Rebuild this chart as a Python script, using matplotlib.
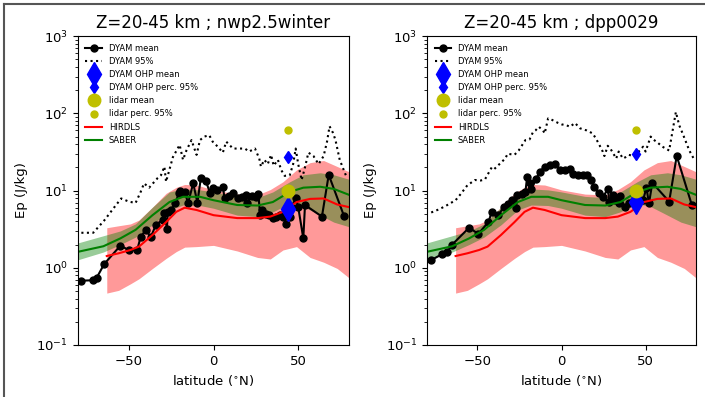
import numpy as np
import matplotlib
matplotlib.use("Agg")
import matplotlib.pyplot as plt
from matplotlib.lines import Line2D

# ---------------- data ----------------
titles = ["Z=20-45 km ; nwp2.5winter", "Z=20-45 km ; dpp0029"]

# DYAM mean, left panel (nwp2.5winter)
dyam_lat_L = [-78, -71, -69, -64.5, -55, -50, -45, -43, -40, -37, -34, -30, -29, -27.5, -27, -25,
              -22.5, -20.5, -19.5, -17, -15, -12, -9.5, -7.5, -4.5, -2, -0.5, 2, 5.5, 6.5, 9,
              11.5, 14.5, 17, 19, 19.5, 22.5, 25, 26.5, 27.5, 28.5, 31, 33, 35, 37, 39, 41, 43,
              45, 46, 48.5, 50, 53, 54, 64, 68, 77]
dyam_mean_L = [0.68, 0.69, 0.74, 1.12, 1.93, 1.7, 1.72, 2.5, 3.1, 2.5, 3.6, 4.2, 5.1, 3.2, 5.3, 5.6,
               6.9, 9.2, 9.8, 9.6, 6.9, 12.4, 7.0, 14.4, 13.3, 9.2, 10.9, 10.2, 11.2, 8.0, 8.5,
               9.2, 7.9, 8.3, 8.7, 6.9, 8.5, 8.2, 9.0, 4.8, 5.6, 5.0, 4.8, 4.4, 4.6, 4.8, 4.5, 3.7,
               4.6, 6.1, 7.9, 6.1, 2.4, 6.5, 4.6, 16.0, 4.7]

# DYAM 95th percentile, left panel
p95_lat_L = [-78, -71, -64.5, -58.5, -54.5, -50, -46, -43, -41, -38, -33, -31, -29, -28, -24, -20,
             -18, -16, -13, -10, -8, -5.5, -2.5, -0.5, 2.5, 5.5, 7.5, 11.5, 15, 18.5, 21, 24.5,
             25.5, 27, 28, 30, 32, 34, 35.5, 38, 40, 42, 45, 47, 48.5, 50, 52, 54, 56, 59, 62,
             65, 67, 68.5, 70.5, 72, 74.5, 78.5]
p95_L = [2.84, 2.84, 4.1, 6.1, 7.9, 7.2, 6.9, 9.6, 12.4, 10.9, 14.5, 15.8, 20.4, 13.0, 27, 39,
         25, 33, 45, 29, 45, 50, 52, 43, 37, 31, 43, 35, 35, 35, 32, 35,
         31, 26, 20.4, 25, 22, 29, 21, 25, 18.4, 15.5, 15.8, 22, 35, 22, 13.7, 20, 31, 28, 22,
         28, 43, 68, 56, 45, 25, 15]

# DYAM mean, right panel (dpp0029)
dyam_lat_R = [-77.5, -71, -68, -65, -55, -49.5, -43.5, -41.5, -37.5, -34.5, -32, -29.5, -27, -26.5,
              -23.5, -21.5, -20.5, -19, -18, -15, -13, -10, -7, -4, -1, 2, 5, 7, 10, 12.5, 15,
              17.5, 19.5, 22, 24.5, 27.5, 28.5, 30.5, 32, 34, 35, 37.5, 40, 43, 46, 48.5, 50.5,
              52, 54, 64, 68.5, 77.5]
dyam_mean_R = [1.26, 1.5, 1.6, 2.0, 3.3, 2.75, 3.9, 5.3, 4.8, 6.1, 6.6, 7.5, 6.0, 8.7,
               9.0, 9.5, 14.8, 12.4, 10.6, 14.2, 17.5, 20.3, 21.5, 22.3, 18.4, 18.4, 19.3, 16.5,
               15.8, 16.0, 15.8, 13.7, 11.0, 9.4, 8.2, 10.4, 7.2, 8.7, 7.5, 6.8, 8.4, 6.1, 7.0,
               7.6, 7.5, 7.5, 10.9, 6.8, 12.6, 7.2, 28.0, 6.5]

# DYAM 95th percentile, right panel
p95_lat_R = [-77.5, -73, -69, -63, -60, -56, -51.5, -48, -45.5, -41.5, -40, -36, -33.5, -32, -28,
             -25.5, -21.5, -19, -17, -15.5, -13.5, -11, -10, -8, -6, -2, 0, 3, 5, 8, 11, 15,
             18.5, 20.5, 22, 24.5, 25.5, 27.5, 29, 30.5, 32.5, 34, 36.5, 38, 40, 43, 46.5, 48.5,
             50, 53, 54.5, 57, 60, 64, 68, 70, 72, 76, 79]
p95_R = [5.2, 5.7, 6.3, 7.5, 9.0, 11.7, 13.7, 13.5, 14, 20, 19, 23, 26, 30, 29,
         33, 45, 46, 57, 60, 67, 60, 55, 86, 83, 75, 72, 70, 67, 75, 64, 60,
         55, 47, 41, 32, 28, 38, 35, 31, 26, 32, 26, 27, 29, 28, 33, 37,
         32, 50, 46, 42, 37, 33, 104, 70, 55, 33, 25]

# OHP station values
ohp_lat = 44
ohp_mean = [5.8, 7.2]       # left, right
ohp_p95 = [27.4, 30.0]
lidar_mean = [10.0, 10.0]
lidar_p95 = [60.0, 60.0]

# HIRDLS climatology
hirdls_lat = [-63, -56, -49, -44, -36, -28, -22, -17, -10, 0, 14, 26, 33.5, 41, 49, 57, 65, 73, 80]
hirdls_mean = [1.42, 1.54, 1.7, 1.88, 2.66, 3.9, 5.3, 6.0, 5.6, 4.8, 4.4, 4.4, 4.6, 5.3, 7.1, 7.8,
               7.9, 6.6, 6.1]
hirdls_hi = [3.3, 3.5, 3.7, 4.15, 6.1, 9.2, 11.0, 12.0, 11.8, 10.2, 9.0, 8.8, 10.3, 13.0, 18.5,
             23.0, 24.5, 20.5, 17.5]
hirdls_lo = [0.47, 0.51, 0.62, 0.72, 0.98, 1.32, 1.62, 1.85, 1.88, 1.95, 1.65, 1.36, 1.3, 1.7,
             1.88, 1.36, 1.18, 0.98, 0.74]

# SABER climatology
saber_lat = [-80, -65, -55, -46, -36, -26, -18, -8, 0, 14, 26, 35, 45, 53, 63, 71, 80]
saber_mean = [1.61, 1.9, 2.4, 3.1, 4.8, 7.1, 8.3, 8.3, 7.5, 6.5, 6.4, 7.1, 9.6, 10.9, 11.2, 10.5, 8.8]
saber_hi = [2.1, 2.6, 3.0, 3.7, 6.1, 9.6, 10.5, 10.2, 9.6, 8.4, 8.1, 9.6, 13.0, 16.0, 17.0, 16.0, 14.0]
saber_lo = [1.27, 1.6, 2.0, 2.5, 3.6, 5.6, 6.5, 6.4, 5.9, 4.8, 4.6, 5.3, 6.8, 6.2, 4.8, 3.9, 3.4]

panels = [
    (dyam_lat_L, dyam_mean_L, p95_lat_L, p95_L),
    (dyam_lat_R, dyam_mean_R, p95_lat_R, p95_R),
]

# ---------------- figure ----------------
fig = plt.figure(figsize=(7.05, 3.97), dpi=100)
axes = [fig.add_axes([0.1106, 0.131, 0.3845, 0.778]),
        fig.add_axes([0.6057, 0.131, 0.3816, 0.778])]

for i, ax in enumerate(axes):
    lat_m, mean_v, lat_p, p_v = panels[i]
    ax.plot(lat_m, mean_v, 'ko-', lw=1.5, ms=5, label='DYAM mean')
    ax.plot(lat_p, p_v, 'k:', lw=1.5, label='DYAM 95%')
    ax.plot([ohp_lat], [ohp_mean[i]], 'bd', ms=12, label='DYAM OHP mean', zorder=4)
    ax.plot([ohp_lat], [ohp_p95[i]], 'bd', ms=6, label='DYAM OHP perc. 95%', zorder=4)
    ax.plot([ohp_lat], [lidar_mean[i]], 'yo', ms=9, label='lidar mean', zorder=4)
    ax.plot([ohp_lat], [lidar_p95[i]], 'yo', ms=5, label='lidar perc. 95%', zorder=4)
    ax.plot(hirdls_lat, hirdls_mean, 'r-', lw=1.5, label='HIRDLS')
    ax.fill_between(hirdls_lat, hirdls_lo, hirdls_hi, color='r', alpha=0.4, lw=0)
    ax.plot(saber_lat, saber_mean, 'g-', lw=1.5, label='SABER')
    ax.fill_between(saber_lat, saber_lo, saber_hi, color='g', alpha=0.4, lw=0)

    ax.set_yscale('log')
    ax.set_ylim(0.1, 1000)
    ax.set_xlim(-80, 80)
    ax.set_xticks([-50, 0, 50])
    ax.tick_params(labelsize=9.5)
    ax.set_xlabel(r'latitude ($^{\circ}$N)', fontsize=9.5)
    ax.set_ylabel('Ep (J/kg)', fontsize=9.5, labelpad=6)
    ax.set_title(titles[i], fontsize=12)
    ax.legend(loc='upper left', fontsize=6, frameon=False)

# screenshot frame lines (left and top)
fig.add_artist(Line2D([3.5 / 705, 3.5 / 705], [0, 1 - 3.5 / 397], color='#555555', lw=1.5,
                      transform=fig.transFigure))
fig.add_artist(Line2D([3.5 / 705, 1], [1 - 3.5 / 397, 1 - 3.5 / 397], color='#555555', lw=1.5,
                      transform=fig.transFigure))

fig.savefig('out.png', dpi=100)
